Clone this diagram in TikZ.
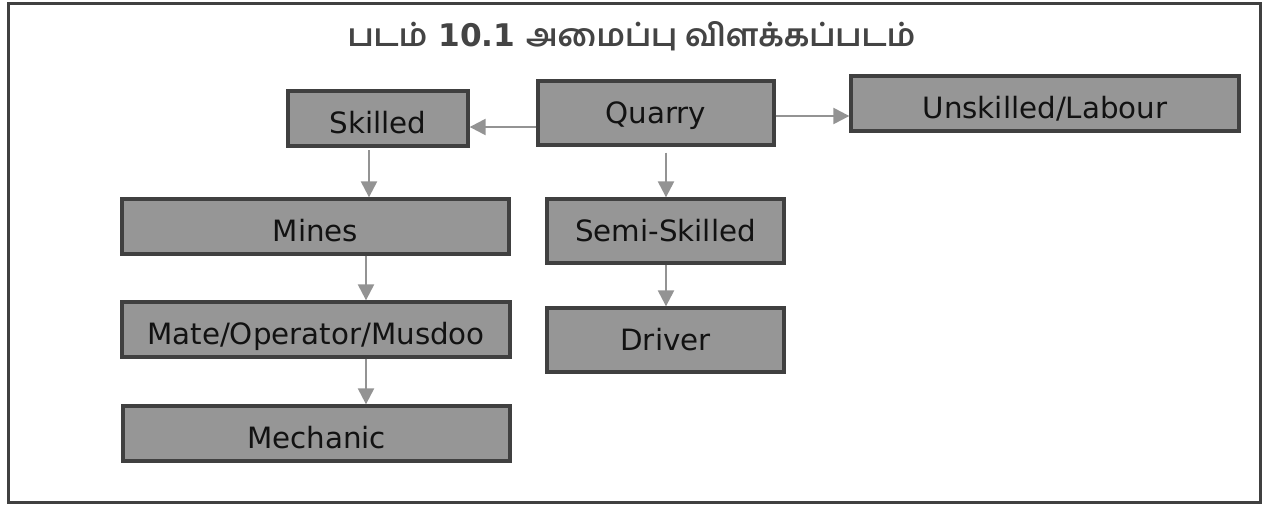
\documentclass[tikz,border=0pt]{standalone}
\usepackage{fontspec}
\setmainfont{DejaVu Sans}
\newfontfamily\tamilfont[Script=Tamil]{Hind Madurai}
\usetikzlibrary{arrows.meta,calc}
\definecolor{boxfill}{HTML}{969696}
\definecolor{boxline}{HTML}{404040}
\definecolor{arrcol}{HTML}{939393}
\definecolor{titlecol}{HTML}{444444}
\begin{document}
\begin{tikzpicture}[x=0.75pt,y=-0.75pt,
  box/.style={draw=boxline,fill=boxfill,line width=2.5pt,rectangle,inner sep=0pt,font=\fontsize{22}{25}\selectfont,text=black!93,text height=22pt,text depth=0pt},
  boxc/.style={box,text height=16pt},
  arr/.style={draw=arrcol,line width=1.75pt,-{Triangle[length=12pt,width=12pt]}}]
\useasboundingbox (0,0) rectangle (1270,504);
\draw[boxline,line width=2.25pt] (8.5,3) rectangle (1260.5,502);
\node[font=\fontsize{23.4}{27}\selectfont\bfseries,text=titlecol] (title) at (631.5,36) {{\tamilfont படம்} 10.1 {\tamilfont அமைப்பு விளக்கப்படம்}};
\node[box,minimum width=180*0.75pt,minimum height=55*0.75pt] (skilled) at (378,118.5) {Skilled};
\node[boxc,minimum width=236*0.75pt,minimum height=64*0.75pt] (quarry) at (656,113) {Quarry};
\node[box,minimum width=388*0.75pt,minimum height=55*0.75pt] (unskilled) at (1045,103.5) {Unskilled/Labour};
\node[box,minimum width=387*0.75pt,minimum height=55*0.75pt] (mines) at (315.5,226.5) {Mines};
\node[boxc,minimum width=237*0.75pt,minimum height=64*0.75pt] (semi) at (665.5,231) {Semi-Skilled};
\node[box,minimum width=388*0.75pt,minimum height=55*0.75pt] (mate) at (316,329.5) {Mate/Operator/Musdoo};
\node[boxc,minimum width=237*0.75pt,minimum height=64*0.75pt] (driver) at (665.5,340) {Driver};
\node[box,minimum width=387*0.75pt,minimum height=55*0.75pt] (mech) at (316.5,433.5) {Mechanic};
\coordinate (xa) at (369,0);
\coordinate (xb) at (366,0);
\coordinate (xc) at (666,0);
\coordinate (ya) at (0,127);
\coordinate (yb) at (0,116);
\draw[arr] (quarry.west |- ya) -- (skilled.east |- ya);
\draw[arr] (quarry.east |- yb) -- (unskilled.west |- yb);
\draw[arr,shorten <=2pt] (skilled.south -| xa) -- (mines.north -| xa);
\draw[arr] (mines.south -| xb) -- (mate.north -| xb);
\draw[arr] (mate.south -| xb) -- (mech.north -| xb);
\draw[arr,shorten <=4.5pt] (quarry.south -| xc) -- (semi.north -| xc);
\draw[arr] (semi.south -| xc) -- (driver.north -| xc);
\end{tikzpicture}
\end{document}
